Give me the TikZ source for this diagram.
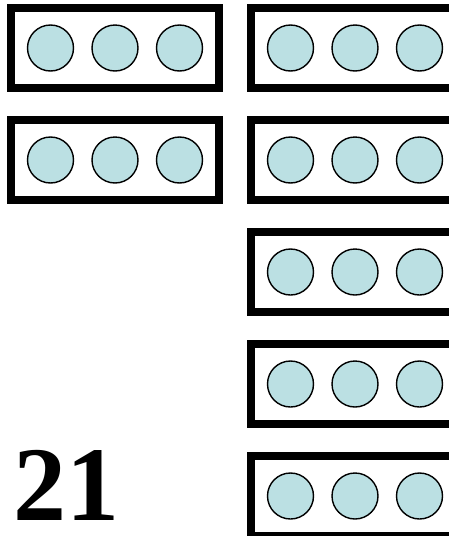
\documentclass[tikz,border=0pt]{standalone}
\usepackage{fontspec}
\setmainfont{Liberation Serif}
\definecolor{beadblue}{RGB}{187,224,227}
\tikzset{
  tray/.style={draw=black, line width=8pt},
  bead/.style={circle, draw=black, line width=1.4pt, fill=beadblue,
    minimum size=46pt, inner sep=0pt}
}
\begin{document}
\begin{tikzpicture}[x=1pt,y=-1pt]
  \useasboundingbox (0,0) rectangle (449,536);
  \begin{scope}
    \clip (0,0) rectangle (449,536);
    % left column: two trays
    \foreach \r in {0,1} {
      \draw[tray] (11,8+112*\r) rectangle (218.5,88+112*\r);
      \foreach \c/\dx in {1/39.5,2/104,3/168.5}
        \node[bead] (bl\r\c) at (11+\dx,48+112*\r) {};
    }
    % right column: five trays
    \foreach \r in {0,...,4} {
      \draw[tray] (251,8+112*\r) rectangle (458.5,88+112*\r);
      \foreach \c/\dx in {1/39.5,2/104,3/168.5}
        \node[bead] (br\r\c) at (251+\dx,48+112*\r) {};
    }
  \end{scope}
  \node[anchor=base, inner sep=0pt, font=\fontsize{106}{106}\selectfont\bfseries]
    (total) at (66,520) {21};
\end{tikzpicture}
\end{document}
